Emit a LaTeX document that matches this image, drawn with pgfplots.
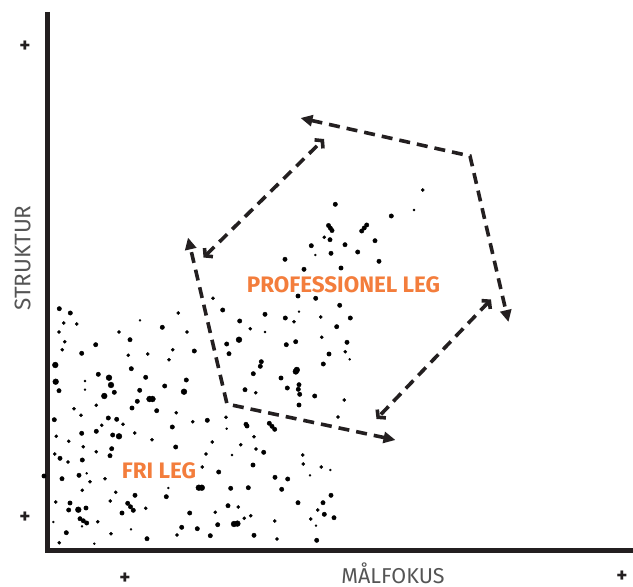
\documentclass[border=0pt]{standalone}
\usepackage{fontspec}
\setmainfont{Fira Sans}
\usepackage{pgfplots}
\pgfplotsset{compat=1.18}
\usetikzlibrary{arrows.meta}
\definecolor{axisc}{RGB}{35,31,32}
\definecolor{labc}{RGB}{85,85,85}
\definecolor{legc}{RGB}{243,125,60}
\tikzset{plus/.style={axisc, font=\bfseries\fontsize{21bp}{21bp}\selectfont, inner sep=0pt}}

\begin{document}
\begin{tikzpicture}
\begin{axis}[
  scale only axis, width=633bp, height=587bp,
  xmin=0, xmax=633, ymin=0, ymax=587, y dir=reverse,
  hide axis, clip=false,
  dot/.style={only marks, mark=*, mark options={draw=none, fill=black}},
]
\coordinate (bbTL) at (axis cs:0,0);
\coordinate (bbBR) at (axis cs:633,587);

% axis frame
\draw[line width=5bp, axisc, miter limit=10] (axis cs:47.5,12) -- (axis cs:47.5,550) -- (axis cs:633,550);

% dots, tiny
\addplot[dot, mark size=1.0bp] coordinates {
(140,320.3) (85,381) (85,389.7) (232,455) (330.3,470) (86.7,473.3) (310,475.3)
(168.3,488) (53.3,522) (82,526.3) (316,525.7) (131,529.3) (94.3,543.7) (414,210)
(315.3,255) (299,311.7) (265,332) (349.7,359.3) (226.7,428.7)
};
% dots, small
\addplot[dot, mark size=1.6bp] coordinates {
(63.7,323) (76.7,324) (119,332) (187,332) (178.3,313) (64.7,341.7) (62.3,349.7)
(128.3,355.3) (147.7,354) (172.7,349.7) (169,359.7) (96.3,405.3) (74,408.7) (81,415.3)
(176.3,412.7) (192.7,421.7) (101.7,425.3) (123,424.3) (134.7,433) (56.3,436.3) (152,439.7)
(68.7,441.3) (212.3,442) (83.3,446.7) (240.7,444.7) (256,449) (302.7,455) (54.7,454)
(68,462) (96.3,451.7) (206,454) (303.3,464) (321.3,467) (202.3,467) (90,481.7)
(105,478.7) (82.3,490.3) (115.7,492.3) (55.7,502) (110.3,501) (145.7,508.3) (238.3,507)
(215.3,512.3) (250.7,515.7) (244.3,518.3) (317.7,510) (97.7,521.7) (274.7,521) (310.7,519)
(111,533.7) (177,535) (59.3,542.7) (277,539) (422.7,190) (324.3,237.3) (213,298.3)
(320.7,317) (294,321.7) (250.3,328.7) (321.7,337.3) (345.3,351.7) (255.7,392.7) (344.3,400)
(226,417.3) (254,436.7) (338,417) (59,332)
};
% dots, medium
\addplot[dot, mark size=2.2bp] coordinates {
(59.3,308.7) (70.3,313) (162.3,327.3) (95.7,344.7) (130,339.7) (81.7,353.3) (194.3,351)
(131.3,368.7) (98.3,374.3) (145.7,377.3) (186.3,380) (164.7,386) (59,390.7) (114.3,392.3)
(139.7,390.3) (137.3,401.3) (132,408) (156.7,410.7) (108.3,418) (116.7,419.3) (54.3,419.7)
(207.3,420.3) (172.3,427) (81.7,433.3) (96.3,431.3) (112.7,435) (111.7,448.7) (175.7,447)
(263.7,452.3) (60,458.3) (82.3,460) (110,455.7) (253,465) (218.7,472) (44,476)
(62,478.7) (79,475.3) (275,477.3) (287.7,479) (135,495.3) (166.3,496.7) (230.7,488.3)
(248.3,487.7) (281.7,489.3) (331,495.3) (70,503) (228,505.7) (298,502.7) (323,502.7)
(68.7,510) (86,508) (122,513) (189.7,513) (324.3,514.3) (334,517.7) (217.7,524.7)
(181.7,527.3) (197.3,528.7) (66.3,532.7) (210.3,535.7) (254,535.3) (147,538.7) (316.7,540.3)
(335.3,204.3) (391.3,216) (330,239.7) (375,240.7) (311.3,245.7) (345,244.7) (331,253.3)
(357.7,252) (285,259.3) (379,261.3) (304,269.3) (341,268) (298,296) (315.7,298.3)
(339.7,305.3) (222.7,310) (265,314.3) (350.3,318) (239.7,321) (285.3,318) (336.7,326.7)
(295.7,341.7) (286.3,344.7) (347,342.3) (226.7,344) (229,353.7) (329,354) (261.3,361.7)
(260.3,366.3) (323.3,364) (253.3,373.7) (281,378) (245,389.7) (287.3,388) (299,384.7)
(298.3,389.3) (299.7,394.3) (314.7,396) (299,405)
(328.5,225.5) (330.3,228) (332,230.5)
(366.7,225) (364.2,228) (361.7,231)
(127.7,503.3) (130.5,506.8) (133.3,510.3)
(80,518.7) (83.3,520.8) (86.7,523)
(269.3,423.3) (272,426.3) (274.7,429.3)
(246,424.3) (247,426)
};
% dots, large
\addplot[dot, mark size=2.9bp] coordinates {
(55.3,365) (109,377.7) (55.7,381.7) (111,385) (184,391.7) (104.3,396)
(149.5,399) (152.5,399) (119,436.3) (78.3,509.7) (198.8,487.7) (201.8,487.7)
(234,524) (237.4,523.6) (239,339.7) (295.8,371.5) (296.8,369.9)
};

% dashed cycle
\begin{scope}[axisc, line width=3.6bp, dash pattern=on 11bp off 7bp]
\draw[{Straight Barb[length=5bp,width=12bp]}-{Straight Barb[length=5bp,width=12bp]}]
  (axis cs:203.5,257.5) -- (axis cs:324,139);
\draw[{Triangle[length=12bp,width=11bp]}-{Triangle[length=12bp,width=11bp]}]
  (axis cs:300.5,118) -- (axis cs:470,156) -- (axis cs:508.5,322);
\draw[{Straight Barb[length=5bp,width=12bp]}-{Straight Barb[length=5bp,width=12bp]}]
  (axis cs:491,299.5) -- (axis cs:376.5,419);
\draw[{Triangle[length=12bp,width=11bp]}-{Triangle[length=12bp,width=11bp]}]
  (axis cs:395.5,440) -- (axis cs:227,404) -- (axis cs:188,237.5);
\end{scope}

% labels
\node[labc, rotate=90, inner sep=0pt, font=\fontsize{22.5bp}{24bp}\selectfont] at (axis cs:22.5,258) {STRUKTUR};
\node[labc, inner sep=0pt, anchor=base, font=\fontsize{21.5bp}{24bp}\selectfont] at (axis cs:393,583) {MÅLFOKUS};
\node[legc, font=\bfseries\fontsize{22.4bp}{23bp}\selectfont] at (axis cs:343.5,284.5) {PROFESSIONEL LEG};
\node[legc, font=\bfseries\fontsize{22.4bp}{23bp}\selectfont] at (axis cs:159,471) {FRI LEG};

% plus marks
\node[plus] at (axis cs:25,47) {+};
\node[plus] at (axis cs:25,518) {+};
\node[plus] at (axis cs:125,578.5) {+};
\node[plus] at (axis cs:622,576.5) {+};
\end{axis}
\pgfresetboundingbox
\useasboundingbox (bbTL) rectangle (bbBR);
\end{tikzpicture}
\end{document}
